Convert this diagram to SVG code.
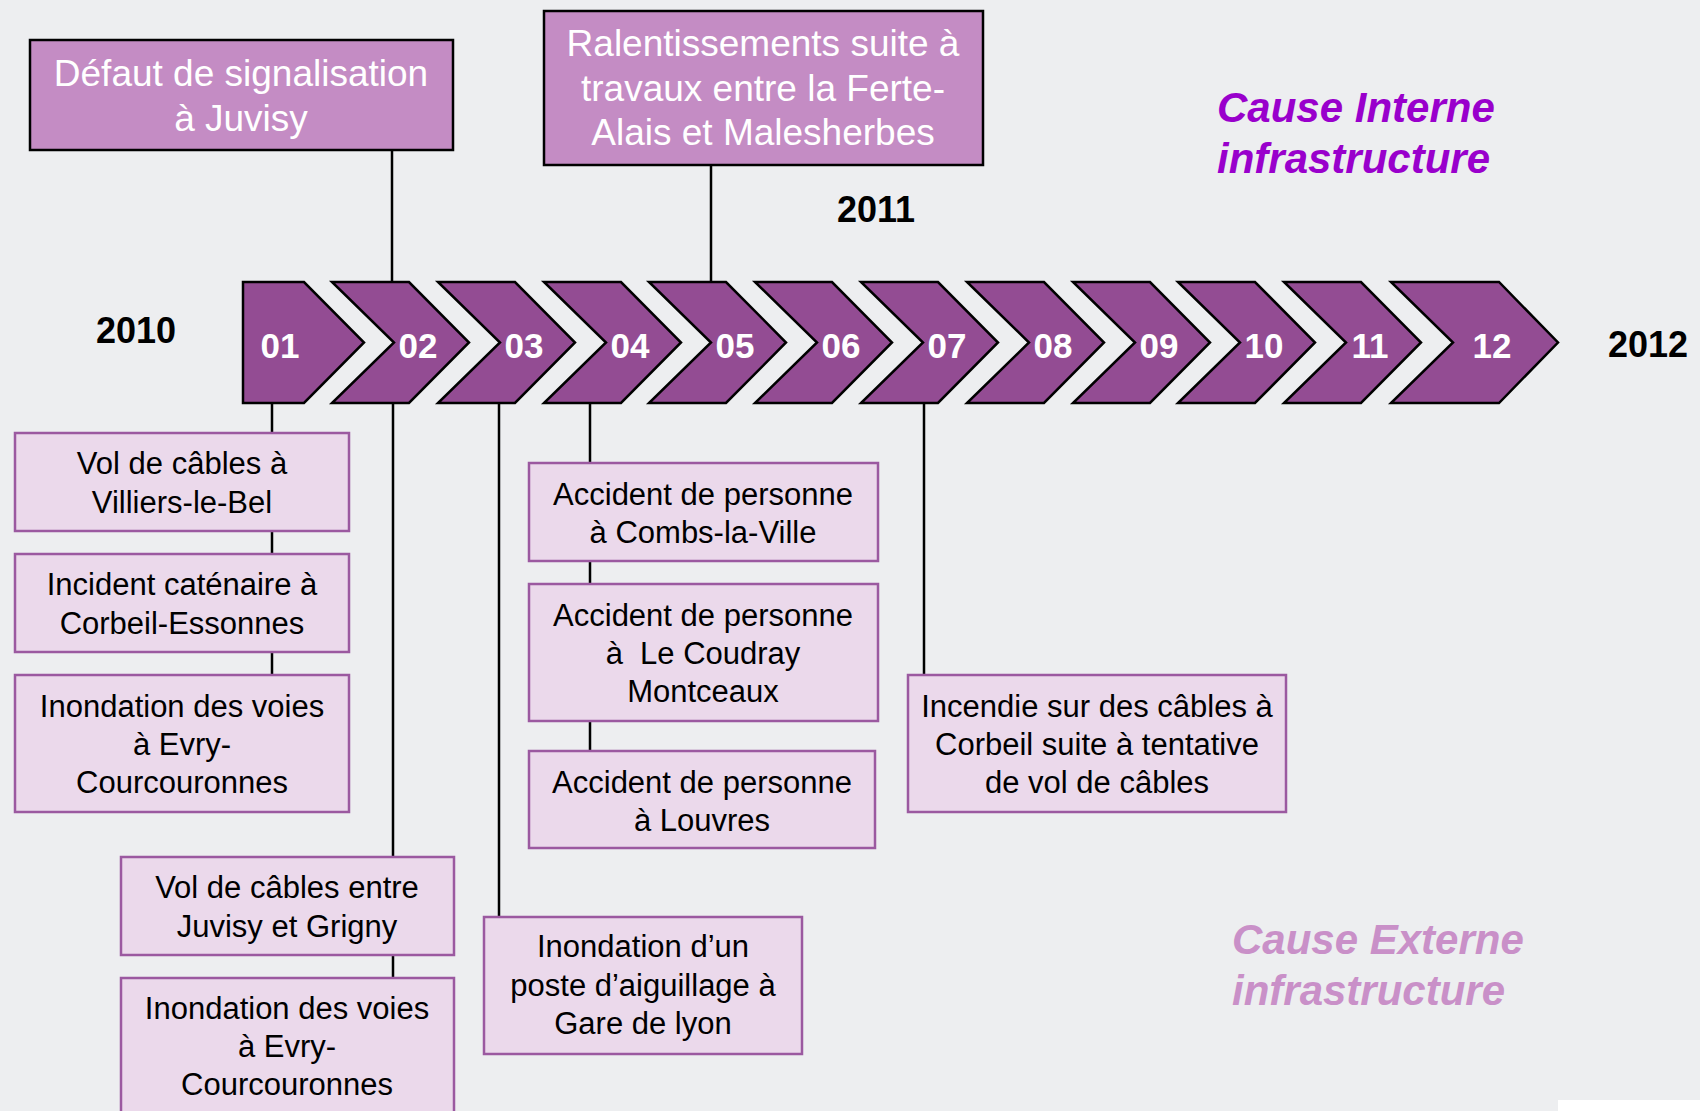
<svg xmlns="http://www.w3.org/2000/svg" width="1700" height="1111" viewBox="0 0 1700 1111">
<style>
.bg{fill:#EDEEF0}
.top{fill:#C48CC4;stroke:#000;stroke-width:2.5}
.bot{fill:#EBD9EB;stroke:#9B59A0;stroke-width:2.5}
.chev{fill:#934C93;stroke:#000;stroke-width:2.5;stroke-linejoin:miter}
.wt{font-family:"Liberation Sans",Arial,sans-serif;font-size:37px;fill:#fff;text-anchor:middle}
.bt{font-family:"Liberation Sans",Arial,sans-serif;font-size:31px;fill:#000;text-anchor:middle;white-space:pre}
.num{font-family:"Liberation Sans",Arial,sans-serif;font-size:35px;font-weight:bold;fill:#fff;text-anchor:middle}
.yr{font-family:"Liberation Sans",Arial,sans-serif;font-size:36px;font-weight:bold;fill:#000;text-anchor:middle}
.cause{font-family:"Liberation Sans",Arial,sans-serif;font-size:42px;font-weight:bold;font-style:italic}
.conn line{stroke:#000;stroke-width:2.5}
</style>
<rect class="bg" x="0" y="0" width="1700" height="1111"/>

<g id="connectors" class="conn">
<line x1="392" y1="150" x2="392" y2="282"/>
<line x1="711" y1="165" x2="711" y2="282"/>
<line x1="272" y1="403" x2="272" y2="675"/>
<line x1="393" y1="403" x2="393" y2="978"/>
<line x1="499" y1="403" x2="499" y2="917"/>
<line x1="590" y1="403" x2="590" y2="751"/>
<line x1="924" y1="403" x2="924" y2="675"/>
</g>

<g id="timeline">
<g id="m01"><polygon class="chev" points="243,282 304,282 364,342.5 304,403 243,403"/><text class="num" x="280" y="358">01</text></g>
<g id="m02"><polygon class="chev" points="332,282 409,282 469,342.5 409,403 332,403 394,342.5"/><text class="num" x="418" y="358">02</text></g>
<g id="m03"><polygon class="chev" points="438,282 515,282 575,342.5 515,403 438,403 500,342.5"/><text class="num" x="524" y="358">03</text></g>
<g id="m04"><polygon class="chev" points="544,282 621,282 681,342.5 621,403 544,403 606,342.5"/><text class="num" x="630" y="358">04</text></g>
<g id="m05"><polygon class="chev" points="649,282 726,282 786,342.5 726,403 649,403 711,342.5"/><text class="num" x="735" y="358">05</text></g>
<g id="m06"><polygon class="chev" points="755,282 832,282 892,342.5 832,403 755,403 817,342.5"/><text class="num" x="841" y="358">06</text></g>
<g id="m07"><polygon class="chev" points="861,282 938,282 998,342.5 938,403 861,403 923,342.5"/><text class="num" x="947" y="358">07</text></g>
<g id="m08"><polygon class="chev" points="967,282 1044,282 1104,342.5 1044,403 967,403 1029,342.5"/><text class="num" x="1053" y="358">08</text></g>
<g id="m09"><polygon class="chev" points="1073,282 1150,282 1210,342.5 1150,403 1073,403 1135,342.5"/><text class="num" x="1159" y="358">09</text></g>
<g id="m10"><polygon class="chev" points="1178,282 1255,282 1315,342.5 1255,403 1178,403 1240,342.5"/><text class="num" x="1264" y="358">10</text></g>
<g id="m11"><polygon class="chev" points="1284,282 1361,282 1421,342.5 1361,403 1284,403 1346,342.5"/><text class="num" x="1370" y="358">11</text></g>
<g id="m12"><polygon class="chev" points="1391,282 1499,282 1558,342.5 1499,403 1391,403 1453,342.5"/><text class="num" x="1492" y="358">12</text></g>
</g>

<g id="years">
<text class="yr" x="136" y="343">2010</text>
<text class="yr" x="876" y="222">2011</text>
<text class="yr" x="1648" y="357">2012</text>
</g>

<g id="top-defaut">
<rect class="top" x="30" y="40" width="423" height="110"/>
<text class="wt" x="241" y="86">Défaut de signalisation</text>
<text class="wt" x="241" y="131">à Juvisy</text>
</g>

<g id="top-ralentissements">
<rect class="top" x="544" y="11" width="439" height="154"/>
<text class="wt" x="763" y="56">Ralentissements suite à</text>
<text class="wt" x="763" y="101">travaux entre la Ferte-</text>
<text class="wt" x="763" y="145">Alais et Malesherbes</text>
</g>

<g id="b-vol-villiers">
<rect class="bot" x="15" y="433" width="334" height="98"/>
<text class="bt" x="182" y="474">Vol de câbles à</text>
<text class="bt" x="182" y="513">Villiers-le-Bel</text>
</g>
<g id="b-incident-corbeil">
<rect class="bot" x="15" y="554" width="334" height="98"/>
<text class="bt" x="182" y="595">Incident caténaire à</text>
<text class="bt" x="182" y="634">Corbeil-Essonnes</text>
</g>
<g id="b-inondation-evry-1">
<rect class="bot" x="15" y="675" width="334" height="137"/>
<text class="bt" x="182" y="717">Inondation des voies</text>
<text class="bt" x="182" y="755">à Evry-</text>
<text class="bt" x="182" y="793">Courcouronnes</text>
</g>
<g id="b-vol-juvisy">
<rect class="bot" x="121" y="857" width="333" height="98"/>
<text class="bt" x="287" y="898">Vol de câbles entre</text>
<text class="bt" x="287" y="937">Juvisy et Grigny</text>
</g>
<g id="b-inondation-evry-2">
<rect class="bot" x="121" y="978" width="333" height="140"/>
<text class="bt" x="287" y="1019">Inondation des voies</text>
<text class="bt" x="287" y="1057">à Evry-</text>
<text class="bt" x="287" y="1095">Courcouronnes</text>
</g>
<g id="b-inondation-gare">
<rect class="bot" x="484" y="917" width="318" height="137"/>
<text class="bt" x="643" y="957">Inondation d’un</text>
<text class="bt" x="643" y="996">poste d’aiguillage à</text>
<text class="bt" x="643" y="1034">Gare de lyon</text>
</g>
<g id="b-accident-combs">
<rect class="bot" x="529" y="463" width="349" height="98"/>
<text class="bt" x="703" y="505">Accident de personne</text>
<text class="bt" x="703" y="543">à Combs-la-Ville</text>
</g>
<g id="b-accident-coudray">
<rect class="bot" x="529" y="584" width="349" height="137"/>
<text class="bt" x="703" y="626">Accident de personne</text>
<text class="bt" x="703" y="664" xml:space="preserve">à  Le Coudray</text>
<text class="bt" x="703" y="702">Montceaux</text>
</g>
<g id="b-accident-louvres">
<rect class="bot" x="529" y="751" width="346" height="97"/>
<text class="bt" x="702" y="793">Accident de personne</text>
<text class="bt" x="702" y="831">à Louvres</text>
</g>
<g id="b-incendie-corbeil">
<rect class="bot" x="908" y="675" width="378" height="137"/>
<text class="bt" x="1097" y="717">Incendie sur des câbles à</text>
<text class="bt" x="1097" y="755">Corbeil suite à tentative</text>
<text class="bt" x="1097" y="793">de vol de câbles</text>
</g>

<g id="legend">
<text class="cause" fill="#9900CC" x="1217" y="122">Cause Interne</text>
<text class="cause" fill="#9900CC" x="1217" y="173">infrastructure</text>
<text class="cause" fill="#C990C8" x="1232" y="954">Cause Externe</text>
<text class="cause" fill="#C990C8" x="1232" y="1005">infrastructure</text>
</g>
<rect x="1558" y="1100" width="142" height="11" fill="#fff"/>
</svg>
